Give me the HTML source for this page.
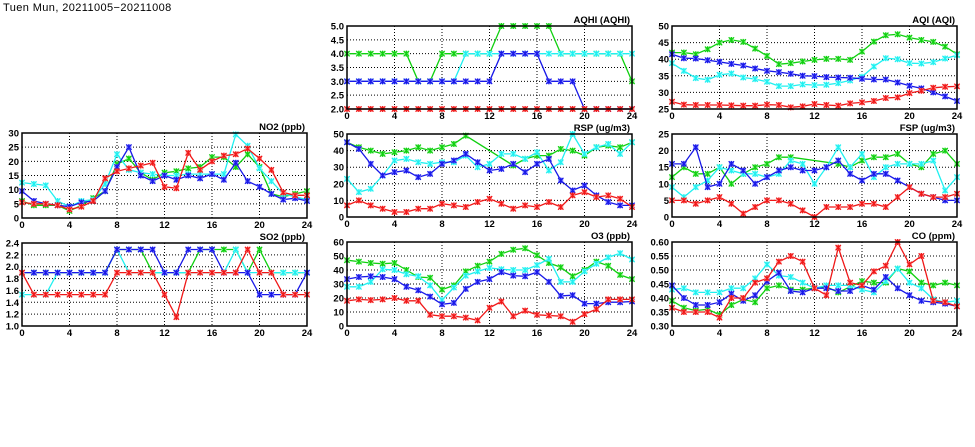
<!DOCTYPE html>
<html><head><meta charset="utf-8"><style>
body{margin:0;background:#fff;width:975px;height:447px;overflow:hidden}
svg{display:block}
text{font-family:"Liberation Sans",sans-serif;font-weight:bold;font-size:9.5px;fill:#000}
</style></head><body>
<svg id="s" width="975" height="447" xmlns="http://www.w3.org/2000/svg">
<text x="3" y="11" style="font-size:11px;font-weight:normal;letter-spacing:0.4px">Tuen Mun, 20211005−20211008</text>
</svg>
<script>
const N=null;
const P=[
{t:"AQHI (AQHI)",L:347,T:26,R:632,B:109,y0:2,y1:5,st:0.5,d:1,s:{
g:[4,4,4,4,4,4,3,3,4,4,4,4,4,5,5,5,5,5,4,4,4,4,4,4,3],
c:[3,3,3,3,3,3,3,3,3,3,4,4,4,4,4,4,4,4,4,4,4,4,4,4,4],
b:[3,3,3,3,3,3,3,3,3,3,3,3,3,4,4,4,4,3,3,3,2,2,2,2,2],
r:[2,2,2,2,2,2,2,2,2,2,2,2,2,2,2,2,2,2,2,2,2,2,2,2,2]}},
{t:"AQI (AQI)",L:672,T:26,R:957,B:109,y0:25,y1:50,st:5,d:0,s:{
g:[42,42,41.5,43,45,45.8,45.2,43.2,41,38.5,38.8,39.3,39.8,40.1,40.1,39.8,42.3,45.3,47.2,47.5,46.5,45.8,45.2,43.8,41.5],
c:[38.8,36.5,34.3,33.8,35.3,35.7,34.5,34,33.2,31.9,31.9,32.4,32.2,32.3,32.8,33.6,34.7,37.8,40.3,40,38.8,38.7,39.1,40.2,41.2],
b:[41.5,40.3,40.2,39.7,39.2,38.6,38.1,37.2,36.5,36.1,35.6,35,34.9,34.6,34.5,34.4,34.1,33.9,33.9,33,32,31.2,30,28.8,27.4],
r:[27.2,26.3,26.2,26.2,26.2,26.1,26,26,26.3,26.2,25.5,25.8,26.5,26.2,26,26.7,27,27.4,28.3,28.5,29.8,30.5,31.4,31.7,31.8]}},
{t:"NO2 (ppb)",L:22,T:133,R:307,B:218,y0:0,y1:30,st:5,d:0,s:{
g:[6,4.5,4.5,4.5,2.5,4.5,7,9.5,19,21,16,13.5,16,16.5,17.5,18,21.5,21.5,18,22.5,18,8.5,7.5,8.5,9.5],
c:[12.5,12,11.5,6,4,6,6.5,12,22.5,17,16,15.5,15,15,15.5,15.5,15.5,15.5,29.5,25.5,17.5,13,8.5,7.5,6.5],
b:[9.5,6,5,4.5,4,5.5,6,9.5,18,25,15,13,15,13.5,15,14,15.5,13.5,19.5,13,11,8.5,6.5,7,6],
r:[5.5,5,5,4.5,3,4,6,14,16.5,17.5,18.5,19.5,11,10.5,23,17,20,22,22.5,24.5,21,17,9,8,8]}},
{t:"RSP (ug/m3)",L:347,T:134,R:632,B:217,y0:0,y1:50,st:10,d:0,s:{
g:[45,42,40,38,39,40,42,40,42,44,49,N,N,N,31,35,37,37,41,40,37,42,43,42,45],
c:[23,15,17,25,34,35,33,32,33,33,37,30,32,38,38,35,39,28,33,50,38,42,44,38,45],
b:[45,41,32,25,27,28,24,26,32,34,38,33,28,29,32,27,32,35,22,16,19,13,9,7,7],
r:[7,10,7,5,3,3,5,5,8,7,6,9,11,8,5,7,6,9,6,13,15,12,13,11,6]}},
{t:"FSP (ug/m3)",L:672,T:134,R:957,B:217,y0:0,y1:25,st:5,d:0,s:{
g:[12,15,13,13,15,10,13,15,16,18,18,N,N,N,16,15,17,18,18,19,16,15,19,20,16],
c:[9,6,9,11,15,14,13,13,12,13,17,16,10,15,21,15,19,12,15,16,16,16,17,8,12],
b:[16,16,21,9,10,16,14,10,12,14,15,14,14,15,17,13,11,13,13,11,9,7,6,5,5],
r:[5,5,4,5,6,4,1,3,5,5,4,2,0,3,3,3,4,4,3,6,9,7,6,6,7]}},
{t:"SO2 (ppb)",L:22,T:243,R:307,B:326,y0:1,y1:2.4,st:0.2,d:1,s:{
c:[1.53,1.53,1.53,1.9,1.9,1.9,1.9,1.9,2.29,1.9,1.9,1.9,1.9,1.9,1.9,1.9,1.9,1.9,2.29,1.9,1.9,1.9,1.9,1.9,1.9],
g:[1.9,1.9,1.9,1.9,1.9,1.9,1.9,1.9,2.29,2.29,2.29,1.9,1.9,1.9,1.9,2.29,2.29,2.29,2.29,1.9,2.29,1.9,1.9,1.9,1.9],
b:[1.9,1.9,1.9,1.9,1.9,1.9,1.9,1.9,2.29,2.29,2.29,2.29,1.9,1.9,2.29,2.29,2.29,1.9,1.9,1.9,1.53,1.53,1.53,1.53,1.9],
r:[1.9,1.53,1.53,1.53,1.53,1.53,1.53,1.53,1.9,1.9,1.9,1.9,1.53,1.15,1.9,1.9,1.9,1.9,1.9,2.29,1.9,1.9,1.53,1.53,1.53]}},
{t:"O3 (ppb)",L:347,T:242,R:632,B:326,y0:0,y1:60,st:10,d:0,s:{
g:[47,46,45,44.5,45,40,35,34.5,26,29,39,43,46,51.5,54.5,55.5,50.5,45,42,35.5,40,46,43,36.5,33.5],
c:[28,28,31.5,40.5,40,37,35.5,29,18.5,27.5,36,39,41.5,40.5,40,40,43.5,48,31.5,31.5,39,44.5,49,52,47.5],
b:[33.5,35,35.5,35,33.5,28,25.5,21,15.5,16.5,26.5,31.5,33.5,38.5,36,35.5,38.5,31.5,21.5,22,16,16,17,17,17.5],
r:[18,19,18.5,19,20,18,18,8,7,7,6,4,13,17.5,7,11,8,7.5,7,3,8.5,12,19,19,19]}},
{t:"CO (ppm)",L:672,T:242,R:957,B:326,y0:0.3,y1:0.6,st:0.05,d:2,s:{
c:[.43,.435,.42,.42,.42,.435,.435,.47,.52,.48,.475,.455,.435,.445,.445,.445,.43,.42,.46,.505,.455,.435,.395,.385,.39],
b:[.445,.40,.375,.375,.385,.415,.39,.41,.46,.49,.425,.42,.435,.435,.425,.425,.445,.43,.475,.435,.41,.39,.385,.38,.37],
g:[.39,.365,.355,.36,.34,.375,.395,.385,.435,.445,.43,.43,.435,.44,.42,.44,.46,.455,.455,.505,.495,.455,.445,.455,.445],
r:[.365,.35,.35,.35,.33,.40,.40,.455,.47,.53,.55,.53,.435,.41,.58,.455,.445,.495,.515,.60,.52,.55,.39,.385,.37]}}
];
const col={g:"#10d010",c:"#20f0f0",b:"#1818e8",r:"#f01818"};
const lt={g:"#90f090",c:"#a0ffff",b:"#8080ff",r:"#ff9090"};
let h="";
for(const p of P){
 const W=p.R-p.L,H=p.B-p.T;
 const X=i=>p.L+W*i/24, Y=v=>p.B-H*(v-p.y0)/(p.y1-p.y0);
 const n=Math.round((p.y1-p.y0)/p.st);
 for(let k=0;k<=n;k++){const v=p.y0+k*p.st,y=Y(v);
  if(k>0&&k<n)h+=`<line x1="${p.L}" x2="${p.R}" y1="${y}" y2="${y}" stroke="#000" stroke-width="1" stroke-dasharray="1,2"/>`;
  h+=`<text x="${p.L-3}" y="${y+3.5}" text-anchor="end">${v.toFixed(p.d)}</text>`;}
 for(let i=0;i<=24;i+=4){const x=X(i);
  if(i>0&&i<24)h+=`<line x1="${x}" x2="${x}" y1="${p.T}" y2="${p.B}" stroke="#000" stroke-width="1" stroke-dasharray="1,2"/>`;
  h+=`<text x="${x}" y="${p.B+10}" text-anchor="middle">${i}</text>`;}
 h+=`<text x="${p.R-2}" y="${p.T-3}" text-anchor="end">${p.t}</text>`;
 h+=`<clipPath id="c${p.L}${p.T}"><rect x="${p.L-4}" y="${p.T-4}" width="${W+8}" height="${H+8}"/></clipPath><g clip-path="url(#c${p.L}${p.T})">`;
 for(const k of ["g","c","b","r"]){const a=p.s[k];if(!a)continue;
  const pts=a.map((v,i)=>v==null?null:[X(i),Y(v)]).filter(q=>q);
  h+=`<polyline fill="none" stroke="${col[k]}" stroke-width="1.3" points="${pts.map(q=>q[0].toFixed(1)+","+q[1].toFixed(1)).join(" ")}"/>`;
  for(const [x,y] of pts){h+=`<rect x="${x-2.5}" y="${y-2.5}" width="5" height="5" fill="${lt[k]}"/><path d="M${x-2.7} ${y-2.7}L${x+2.7} ${y+2.7}M${x+2.7} ${y-2.7}L${x-2.7} ${y+2.7}M${x} ${y-3}V${y+3}" stroke="${col[k]}" stroke-width="1.2"/>`;}
 }
 h+=`</g><rect x="${p.L}" y="${p.T}" width="${W}" height="${H}" fill="none" stroke="#000" stroke-width="1.5"/>`;
}
document.getElementById("s").insertAdjacentHTML("beforeend",h);
</script>
</body></html>
